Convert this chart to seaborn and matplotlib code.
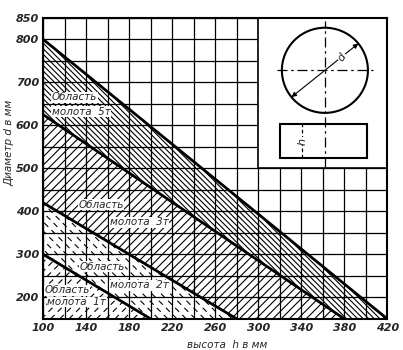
import numpy as np
import pandas as pd
import seaborn as sns
import matplotlib.pyplot as plt
from matplotlib.patches import Rectangle, Ellipse
from matplotlib.collections import LineCollection

# boundaries of hammer regions: height h (mm) -> diameter d (mm)
h_5t = [100, 420]
d_5t = [800, 150]
h_3t = [100, 380]
d_3t = [625, 150]
h_2t = [100, 280]
d_2t = [420, 150]
h_1t = [100, 200]
d_1t = [300, 150]

x_ticks = [100, 140, 180, 220, 260, 300, 340, 380, 420]
y_ticks = [200, 300, 400, 500, 600, 700, 800, 850]

# label positions (left edge, centre) for the region captions
labels = [
    ('Область', 108, 665), ('молота  5т', 108, 632),
    ('Область', 133, 415), ('молота  3т', 162, 375),
    ('Область', 134, 271), ('молота  2т', 162, 228),
    ('Область', 101, 216), ('молота  1т', 104, 189),
]

sns.set_theme(style='white')
plt.rcParams['font.family'] = ['DejaVu Sans']
plt.rcParams['hatch.linewidth'] = 0.8

fig = plt.figure(figsize=(4.03, 3.5), dpi=100)
ax = fig.add_axes([0.107, 0.089, 0.854, 0.86])
ax.set_xlim(100, 420)
ax.set_ylim(150, 850)

hh = np.linspace(100, 420, 641)
top = np.interp(hh, h_5t, d_5t)
b3 = np.interp(hh, h_3t, d_3t)
b2 = np.interp(hh, h_2t, d_2t)
b1 = np.interp(hh, h_1t, d_1t)
floor = np.full_like(hh, 150.0)

# solid hatches
ax.fill_between(hh, b3, top, facecolor='none', edgecolor='black', hatch='\\' * 6, linewidth=0, zorder=1)
ax.fill_between(hh, b2, b3, facecolor='none', edgecolor='black', hatch='/' * 4, linewidth=0, zorder=1)

# dashed hatches, clipped to the region
bbox = ax.get_window_extent()
W, H = bbox.width, bbox.height


def dashed_hatch(lower, upper, direction, spacing):
    poly = ax.fill_between(hh, lower, upper, facecolor='none', edgecolor='none', linewidth=0)
    step = spacing * np.sqrt(2) / W
    dx = H / W
    segs = []
    for c in np.arange(-dx - 1, 2, step):
        if direction == '/':
            segs.append([(c, 0), (c + dx, 1)])
        else:
            segs.append([(c + dx, 0), (c, 1)])
    lc = LineCollection(segs, colors='black', linewidths=0.8, linestyles=(0, (5, 4)),
                        transform=ax.transAxes, zorder=1)
    ax.add_collection(lc)
    lc.set_clip_path(poly.get_paths()[0], ax.transData)


dashed_hatch(b1, b2, '\\', 6.5)
dashed_hatch(floor, b1, '/', 6.5)

# boundary lines
bounds = pd.concat([
    pd.DataFrame({'h': h_5t, 'd': d_5t, 'line': '5t'}),
    pd.DataFrame({'h': h_3t, 'd': d_3t, 'line': '3t'}),
    pd.DataFrame({'h': h_2t, 'd': d_2t, 'line': '2t'}),
    pd.DataFrame({'h': h_1t, 'd': d_1t, 'line': '1t'}),
])
sns.lineplot(data=bounds, x='h', y='d', units='line', estimator=None, color='black',
             linewidth=2, legend=False, ax=ax, zorder=4)

# grid
ax.set_xticks(x_ticks)
ax.set_xticks(np.arange(100, 421, 20), minor=True)
ax.set_yticks(y_ticks)
ax.set_yticks(np.arange(150, 851, 50), minor=True)
ax.set_axisbelow(False)
ax.grid(True, which='both', color='black', linewidth=0.9)
ax.tick_params(which='both', length=0, pad=3)
for t in ax.get_xticklabels() + ax.get_yticklabels():
    t.set_fontstyle('italic')
    t.set_fontsize(8)
    t.set_fontweight('bold')
for s in ax.spines.values():
    s.set_color('black')
    s.set_linewidth(1.5)
    s.set_zorder(6)

ax.set_xlabel('высота  h в мм', fontsize=7.5, style='italic')
ax.set_ylabel('Диаметр d в мм', fontsize=7.5, style='italic')
ax.xaxis.set_label_coords(0.535, -0.07)
ax.yaxis.set_label_coords(-0.083, 0.585)

for txt, x, y in labels:
    ax.text(x, y, txt, fontsize=7.5, style='italic', ha='left', va='center', zorder=5,
            bbox=dict(facecolor='white', edgecolor='none', pad=0.3))

# sketch of the billet
ax.add_patch(Rectangle((300, 500), 120, 350, facecolor='white', edgecolor='black', linewidth=1.2, zorder=3))
cx, cy, rx, ry = 362, 728, 40, 99
ax.add_patch(Ellipse((cx, cy), 2 * rx, 2 * ry, fill=False, edgecolor='black', linewidth=1.5, zorder=4))
dashdot = (0, (8, 3, 2, 3))
ax.plot([317, 407], [cy, cy], color='black', linewidth=0.9, linestyle=dashdot, zorder=4)
ax.plot([cx, cx], [504, 842], color='black', linewidth=0.9, linestyle=dashdot, zorder=4)
a = np.deg2rad(39)
p1 = (cx - rx * np.cos(a), cy - ry * np.sin(a))
p2 = (cx + rx * np.cos(a), cy + ry * np.sin(a))
ax.annotate('', xy=p1, xytext=p2, zorder=4,
            arrowprops=dict(arrowstyle='<|-|>', color='black', lw=0.8, mutation_scale=7, shrinkA=0, shrinkB=0))
ax.text(cx + 0.5 * rx * np.cos(a), cy + 0.5 * ry * np.sin(a), 'd', fontsize=8, style='italic',
        rotation=55, ha='center', va='center', zorder=5,
        bbox=dict(facecolor='white', edgecolor='none', pad=0.5))
ax.add_patch(Rectangle((320.5, 524), 80.5, 78, fill=False, edgecolor='black', linewidth=1.5, zorder=4))
ax.plot([341, 341], [524, 602], color='black', linewidth=0.9, linestyle=(0, (3, 2)), zorder=4)
ax.text(341, 563, 'h', fontsize=8, style='italic', rotation=90, ha='center', va='center', zorder=5,
        bbox=dict(facecolor='white', edgecolor='none', pad=0.5))

fig.savefig('out.png', dpi=100)
